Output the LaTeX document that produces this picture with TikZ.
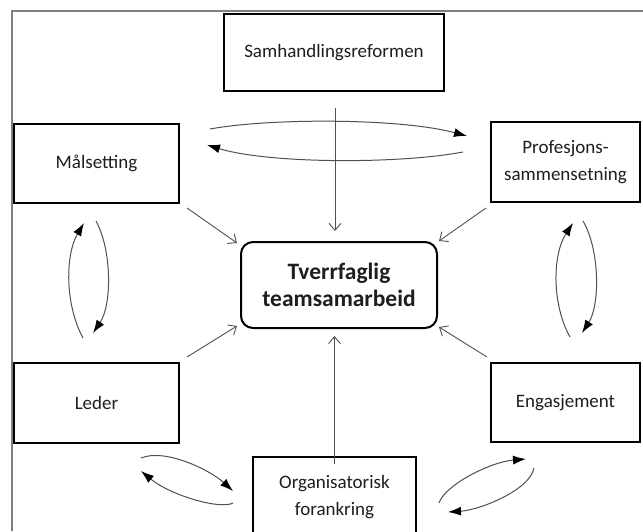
\documentclass[tikz,border=0pt]{standalone}
\usepackage{fontspec}
\setmainfont{Carlito}
\usetikzlibrary{arrows.meta}
\definecolor{txt}{HTML}{1E1E1E}
\definecolor{conn}{HTML}{505050}
\definecolor{framec}{HTML}{7F7F7F}
\tikzset{
  box/.style={draw=black, line width=2pt, fill=white, inner sep=0pt, align=center,
    font=\fontsize{19}{27}\selectfont, text=txt},
  cbox/.style={box, rounded corners=12pt, font=\bfseries\fontsize{23.5}{27}\selectfont},
  link/.style={draw=conn, line width=0.9pt, -{Straight Barb[length=7pt,width=12pt]}},
  cyc/.style={draw=conn, line width=1pt, -{Latex[length=13pt,width=9pt,color=black]}},
  framel/.style={draw=framec, line width=1.3pt}
}
\begin{document}
\begin{tikzpicture}[x=1pt,y=-1pt]
\clip (0,0) rectangle (643,531);
\fill[white] (0,0) rectangle (643,531);
\draw[framel] (12,531) -- (12,11) -- (643,11);

\node[box, minimum width=220pt, minimum height=77pt] (sam) at (334,52.5) {Samhandlingsreformen};
\node[box, minimum width=165pt, minimum height=79pt] (mal) at (96.5,163.5) {Målsetting};
\node[box, minimum width=149pt, minimum height=80pt] (pro) at (565.5,162) {Profesjons-\\sammensetning};
\node[cbox, minimum width=196pt, minimum height=86pt] (cen) at (339,285) {Tverrfaglig\\teamsamarbeid};
\node[box, minimum width=165pt, minimum height=80pt] (led) at (96.5,403) {Leder};
\node[box, minimum width=149pt, minimum height=79pt] (eng) at (565.5,402.5) {Engasjement};
\node[box, minimum width=163pt, minimum height=80pt] (org) at (334.5,497) {Organisatorisk\\forankring};

% straight arrows into the centre
\draw[link, shorten <=16pt, shorten >=10pt] ([xshift=1pt]sam.south) -- ([xshift=1pt]sam.south |- cen.north);
\draw[link, shorten <=-8pt, shorten >=7pt] (org.north) -- (org.north |- cen.south);
\draw[link] ([shift={(7,4)}]mal.south east) -- ([shift={(-3,2)}]cen.north west);
\draw[link] ([shift={(-4,5)}]pro.south west) -- ([shift={(1,0)}]cen.north east);
\draw[link] ([shift={(7,-5)}]led.north east) -- ([shift={(-3,-3)}]cen.south west);
\draw[link] ([shift={(-3,-5)}]eng.north west) -- ([shift={(1,-2)}]cen.south east);

% cycle arrows
\draw[cyc] (210,129) .. controls (270,118) and (400,118) .. (467,136);
\draw[cyc] (463,152) .. controls (400,164) and (270,164) .. (207,145);

\draw[cyc] (96,221) .. controls (112,250) and (112,305) .. (93,333);
\draw[cyc] (83,338) .. controls (65,305) and (65,255) .. (84,223);

\draw[cyc] (583,221) .. controls (600,250) and (600,305) .. (582,333);
\draw[cyc] (570,337) .. controls (552,305) and (552,255) .. (573,223);

\draw[cyc] (141,458) .. controls (165,448) and (210,470) .. (233,491);
\draw[cyc] (233,503) .. controls (220,510) and (170,495) .. (141,471);

\draw[cyc] (439,503) .. controls (445,485) and (490,462) .. (526,459);
\draw[cyc] (534,468) .. controls (530,490) and (480,510) .. (448,512);
\end{tikzpicture}
\end{document}
